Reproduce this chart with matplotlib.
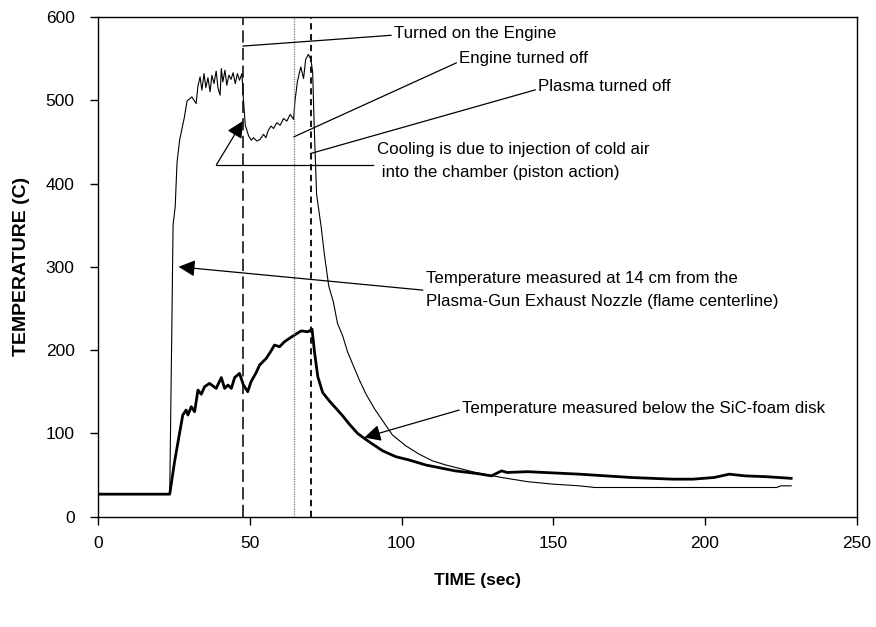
import matplotlib
matplotlib.use("Agg")
import matplotlib.pyplot as plt

plt.rcParams['font.family'] = ['Liberation Sans', 'DejaVu Sans']

# Flame centerline thermocouple (thin line)
flame_t = [0, 10, 20, 23.6, 24.2, 24.7, 25.4, 26.0, 26.9, 28.4, 29.3, 30.9,
           32.3, 32.9, 33.6, 34.2, 34.9, 35.5, 36.2, 36.9, 37.5, 38.2, 38.9,
           39.5, 40.2, 40.6, 41.1, 41.8, 42.4, 43.1, 43.8, 44.5, 45.2, 45.9,
           46.6, 47.4, 47.9, 48.5, 49.6, 50.5, 51.2, 52.3, 53.4, 54.5, 55.3,
           56.1, 57.0, 57.8, 58.9, 60.0, 61.1, 62.2, 63.3, 64.4, 64.9, 65.7,
           66.8, 67.7, 68.4, 69.3, 70.1, 70.7, 71.2, 72.0, 73.5, 74.6, 76.0,
           77.5, 78.9, 80.6, 82.2, 83.9, 86.1, 88.3, 91.0, 93.8, 97.0, 101.4,
           105.8, 110.2, 114.6, 119.0, 124.4, 133.0, 141.5, 150.0, 158.6,
           163.7, 192.8, 223.6, 225.0, 228.4]
flame_T = [27, 27, 27, 27, 200, 350, 372, 425, 453, 479, 499, 504,
           496, 517, 528, 512, 532, 515, 527, 510, 530, 520, 535,
           515, 506, 538, 522, 536, 518, 530, 525, 533, 520, 532,
           524, 532, 500, 470, 457, 452, 455, 451, 453, 459, 455,
           464, 469, 466, 473, 470, 478, 475, 483, 477, 500, 523,
           540, 526, 549, 555, 549, 534, 470, 387, 348, 314, 277,
           258, 232, 217, 198, 183, 164, 147, 130, 115, 98, 85,
           75, 67, 62, 58, 53, 47, 42, 39, 37,
           35, 35, 35, 37, 37]

# Thermocouple below the SiC-foam disk (thick line)
disk_t = [0, 10, 20, 23.6, 25.2, 26.3, 27.9, 29.0, 29.6, 30.7, 31.8, 32.9,
          34.0, 35.1, 36.7, 38.9, 40.6, 41.7, 42.8, 43.9, 45.0, 46.6, 47.9,
          49.3, 50.4, 52.1, 53.2, 55.4, 57.0, 58.1, 59.8, 61.4, 63.0, 64.7,
          66.9, 69.1, 70.5, 71.3, 72.4, 74.0, 76.2, 78.4, 80.6, 82.8, 85.5,
          87.7, 90.5, 93.8, 98.1, 102.5, 108.0, 113.5, 117.6, 124.4, 129.6,
          133.0, 134.7, 141.5, 158.6, 175.7, 189.4, 196.0, 203.0, 208.0,
          213.0, 220.0, 228.4]
disk_T = [27, 27, 27, 27, 66, 89, 122, 128, 122, 132, 126, 152,
          147, 156, 160, 154, 167, 154, 158, 154, 167, 172, 158,
          150, 162, 173, 182, 190, 199, 206, 204, 210, 214, 218,
          223, 222, 225, 198, 168, 149, 139, 130, 121, 111, 100,
          94, 87, 79, 72, 68, 62, 58, 55, 52, 49,
          55, 53, 54, 51, 47, 45, 45, 47, 51,
          49, 48, 46]

# event markers (sec)
engine_on = 47.7
engine_off = 64.5
plasma_off = 70.0


def main():
    fig = plt.figure(figsize=(8.76, 6.27), dpi=100)
    ax = fig.add_axes([0.112, 0.176, 0.866, 0.797])

    ax.plot(flame_t, flame_T, color='black', lw=0.8)
    ax.plot(disk_t, disk_T, color='black', lw=2.0)

    ax.axvline(engine_on, color='black', lw=1.1, linestyle=(0, (8, 3.5)))
    ax.axvline(engine_off, color='#777777', lw=0.9, linestyle=(0, (1, 1)))
    ax.axvline(plasma_off, color='black', lw=1.3, linestyle=(0, (3.5, 2.5)))

    ax.set_xlim(0, 250)
    ax.set_ylim(0, 600)
    ax.set_xticks(range(0, 251, 50))
    ax.set_yticks(range(0, 601, 100))
    ax.tick_params(direction='out', length=6, width=1, labelsize=12.5, colors='black')
    ax.tick_params(axis='x', pad=8)
    ax.tick_params(axis='y', pad=11)
    for s in ax.spines.values():
        s.set_linewidth(1.0)

    ax.set_xlabel('TIME (sec)', fontsize=12.5, fontweight='bold', labelpad=16)
    ax.set_ylabel('TEMPERATURE (C)', fontsize=14, fontweight='bold', labelpad=11)

    fs = 12.2
    ls = 1.65
    line = dict(arrowstyle='-', color='black', lw=0.9, shrinkA=0, shrinkB=0)
    head = dict(arrowstyle='-|>', color='black', lw=0.9, shrinkA=0, shrinkB=0,
                mutation_scale=25, fc='black')

    ax.annotate('Turned on the Engine', xy=(engine_on, 565), xytext=(97.5, 580),
                fontsize=fs, va='center', ha='left',
                arrowprops=dict(line, relpos=(0, 0.4)))
    ax.annotate('Engine turned off', xy=(engine_off, 456), xytext=(119, 550),
                fontsize=fs, va='center', ha='left',
                arrowprops=dict(line, relpos=(0, 0.3)))
    ax.annotate('Plasma turned off', xy=(plasma_off, 436), xytext=(145, 517),
                fontsize=fs, va='center', ha='left',
                arrowprops=dict(line, relpos=(0, 0.3)))

    ax.text(92, 427, 'Cooling is due to injection of cold air\n into the chamber (piston action)',
            fontsize=fs, va='center', ha='left', linespacing=ls)
    ax.plot([39, 90.5], [422.5, 422.5], color='black', lw=0.9)
    ax.annotate('', xy=(engine_on, 475), xytext=(39, 422.5), arrowprops=head)

    ax.text(108, 272, 'Temperature measured at 14 cm from the\nPlasma-Gun Exhaust Nozzle (flame centerline)',
            fontsize=fs, va='center', ha='left', linespacing=ls)
    ax.annotate('', xy=(26.5, 300), xytext=(107, 272), arrowprops=head)

    ax.text(120, 130, 'Temperature measured below the SiC-foam disk',
            fontsize=fs, va='center', ha='left')
    ax.annotate('', xy=(87.7, 95), xytext=(119, 128), arrowprops=head)

    fig.savefig('out.png', dpi=100)


if __name__ == "__main__":
    main()
